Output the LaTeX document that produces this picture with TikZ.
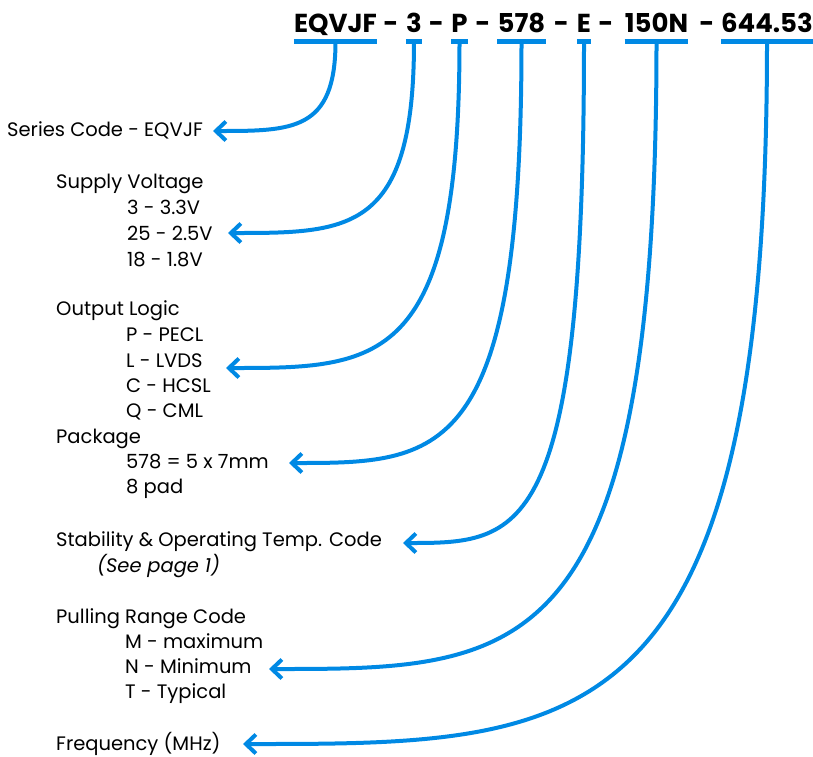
\documentclass[tikz,border=0pt]{standalone}
\usepackage{fontspec}
\setmainfont{Poppins}
\usepackage{tikz}
\usetikzlibrary{arrows.meta,calc}
\definecolor{leadblue}{RGB}{0,137,228}

\begin{document}
\begin{tikzpicture}[x=1pt, y=-1pt,
    code/.style={font=\fontsize{26}{26}\selectfont\bfseries, inner sep=0pt, anchor=base},
    item/.style={font=\fontsize{19.5}{20}\selectfont, inner sep=0pt, anchor=base west},
    bar/.style={draw=leadblue, line width=5.5pt},
    lead/.style={draw=leadblue, line width=4pt, -{Straight Barb[length=10pt,width=19pt]}}
]
\useasboundingbox (0,0) rectangle (813,756);

% part number
\node[code] (cSeries) at (335.5,32) {EQVJF};
\node[code] (d1) at (391,32) {-};
\node[code] (cVolt) at (414,32) {3};
\node[code] (d2) at (436.5,32) {-};
\node[code] (cLogic) at (459.5,32) {P};
\node[code] (d3) at (483,32) {-};
\node[code] (cPkg) at (521.5,32) {578};
\node[code] (d4) at (561.5,32) {-};
\node[code] (cStab) at (584,32) {E};
\node[code] (d5) at (606,32) {-};
\node[code] (cPull) at (656.5,32) {150N};
\node[code] (d6) at (707,32) {-};
\node[code] (cFreq) at (767,32) {644.53};

\foreach \c in {cSeries,cVolt,cLogic,cPkg,cStab,cPull,cFreq}
    \draw[bar] ([yshift=-9.5pt]\c.base west) -- ([yshift=-9.5pt]\c.base east);

% legend
\node[item] (series) at (7,136) {Series Code - EQVJF};
\node[item] (supply) at (56,188) {Supply Voltage};
\node[item] (sv33) at (127,214) {3 - 3.3V};
\node[item] (sv25) at (127,240.5) {25 - 2.5V};
\node[item] (sv18) at (127,266) {18 - 1.8V};
\node[item] (output) at (56,315) {Output Logic};
\node[item] (pecl) at (126,341.5) {P - PECL};
\node[item] (lvds) at (126,367) {L - LVDS};
\node[item] (hcsl) at (126,392.5) {C - HCSL};
\node[item] (cml) at (126,417.5) {Q - CML};
\node[item] (package) at (56,443) {Package};
\node[item] (pkg578) at (126,468.5) {578 = 5 x 7mm};
\node[item] (pad) at (126,493.5) {8 pad};
\node[item] (stab) at (56,546) {Stability \& Operating Temp. Code};
\node[item] (seepage) at (97,572) {\itshape (See page 1)};
\node[item] (pull) at (56,623) {Pulling Range Code};
\node[item] (pmax) at (125,648) {M - maximum};
\node[item] (pmin) at (125,673) {N - Minimum};
\node[item] (ptyp) at (125,698) {T - Typical};
\node[item] (freq) at (56,750) {Frequency (MHz)};

\coordinate (tSeries) at (213,131);
\coordinate (tVolt) at (228,233);
\coordinate (tLogic) at (226,368);
\coordinate (tPkg) at (289,463);
\coordinate (tStab) at (403,543);
\coordinate (tPull) at (269,669);
\coordinate (tFreq) at (243,744);

% leads
\foreach \c/\t in {cSeries/tSeries,cVolt/tVolt,cLogic/tLogic,cPkg/tPkg,cStab/tStab,cPull/tPull,cFreq/tFreq}
    \draw[lead] ([yshift=-9.5pt]\c.base) .. controls (\c.base |- \t)
        and ($(\t)!0.65!(\c.base |- \t)$) .. (\t);
\end{tikzpicture}
\end{document}
